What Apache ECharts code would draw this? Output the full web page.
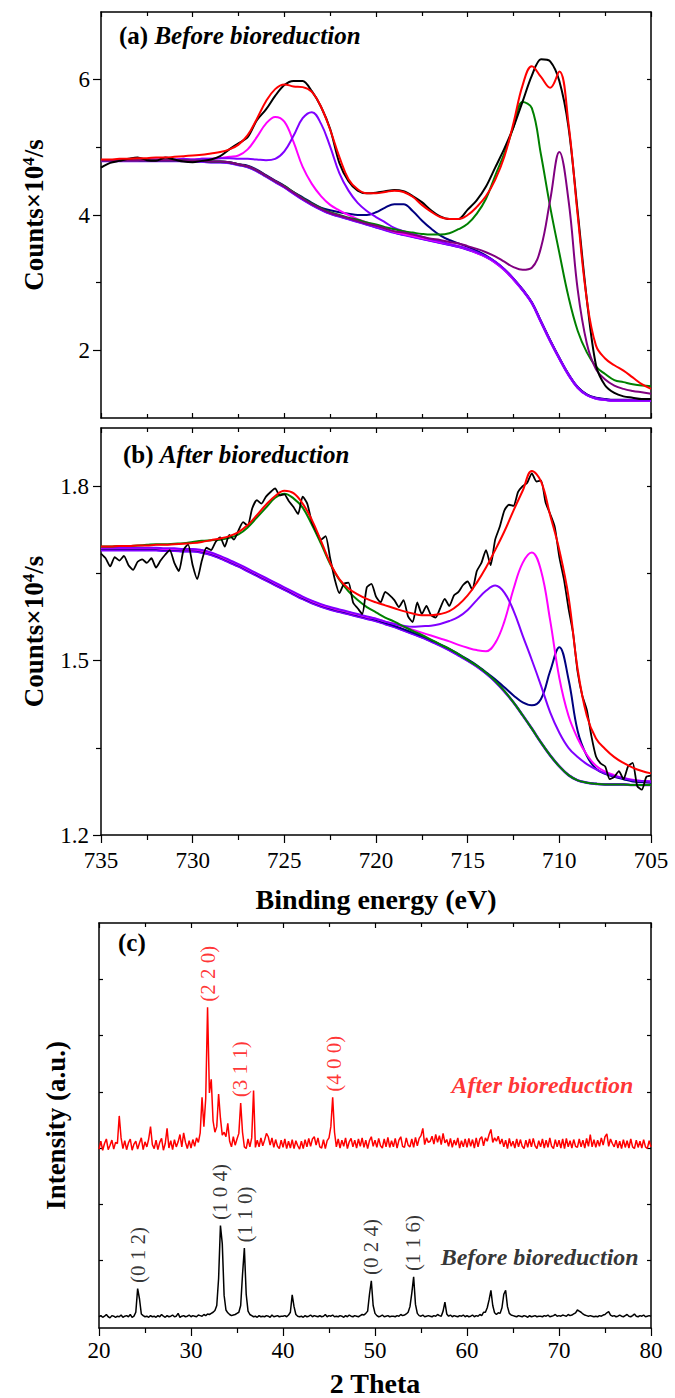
<!DOCTYPE html>
<html>
<head>
<meta charset="utf-8">
<script src="https://cdn.jsdelivr.net/npm/echarts@6/dist/echarts.min.js"></script>
<style>
  html, body { margin: 0; padding: 0; background: #fff; }
  #chart { width: 675px; height: 1398px; }
</style>
</head>
<body>
<div id="chart"></div>
<script>
// ---------- Fe 2p XPS, (a) before bioreduction: 0.5 eV steps, 735 -> 705 eV ----------
const XPS_START = 735;
const XPS_STEP = 0.5;
const XPS_FINE_STEP = 0.25;

// Shirley background (Counts x 10^4 /s)
const bgA = [4.80,4.80,4.80,4.80,4.80,4.80,4.80,4.80,4.80,4.80,
  4.79,4.79,4.78,4.78,4.77,4.74,4.71,4.65,4.57,4.49,
  4.41,4.32,4.23,4.15,4.08,4.02,3.98,3.94,3.90,3.86,
  3.82,3.78,3.74,3.71,3.68,3.65,3.62,3.59,3.56,3.53,
  3.49,3.44,3.38,3.30,3.19,3.05,2.89,2.70,2.42,2.14,
  1.88,1.64,1.45,1.34,1.29,1.27,1.26,1.26,1.26,1.26,
  1.26];
// fitted components, given as height above the background
const magA = [0.01,0.01,0.01,0.01,0.01,0.02,0.02,0.02,0.02,0.03,
  0.03,0.04,0.05,0.06,0.09,0.14,0.26,0.50,0.78,0.96,
  0.97,0.76,0.48,0.31,0.20,0.13,0.09,0.06,0.04,0.03,
  0.02,0.02,0.01,0.01,0.01,0.01,0.01,0.01,0.01,0.01,
  0.01,0,0,0,0,0,0,0,0,0,
  0,0,0,0,0,0,0,0,0,0,
  0];
const vioA = [0.01,0.01,0.01,0.01,0.02,0.02,0.02,0.02,0.02,0.03,
  0.03,0.04,0.05,0.06,0.07,0.09,0.12,0.17,0.24,0.34,
  0.53,0.85,1.20,1.37,1.27,0.99,0.64,0.42,0.28,0.20,
  0.15,0.11,0.07,0.05,0.04,0.03,0.02,0.02,0.01,0.01,
  0.01,0.01,0.01,0.01,0.01,0.01,0,0,0,0,
  0,0,0,0,0,0,0,0,0,0,
  0];
const navA = [0.01,0.01,0.01,0.01,0.01,0.01,0.01,0.01,0.01,0.01,
  0.01,0.01,0.01,0.01,0.01,0.01,0.02,0.02,0.02,0.02,
  0.02,0.02,0.03,0.03,0.03,0.05,0.06,0.08,0.10,0.14,
  0.22,0.33,0.42,0.45,0.38,0.27,0.18,0.11,0.07,0.05,
  0.04,0.03,0.02,0.01,0.01,0.01,0.01,0.01,0.01,0.01,
  0.01,0.01,0.01,0.01,0.01,0.01,0.01,0.01,0.01,0.01,
  0.01];
const grnA = [0.01,0.01,0.01,0.01,0.01,0.01,0.01,0.01,0.01,0.01,
  0.01,0.01,0.01,0.01,0.01,0.01,0.01,0.01,0.01,0.01,
  0.02,0.02,0.02,0.02,0.02,0.02,0.02,0.02,0.03,0.03,
  0.04,0.04,0.05,0.05,0.06,0.07,0.09,0.12,0.17,0.26,
  0.38,0.58,0.86,1.28,1.72,2.25,2.78,2.88,2.47,1.98,
  1.56,1.15,0.84,0.63,0.47,0.38,0.30,0.27,0.24,0.22,
  0.21];
const purA = [0.01,0.01,0.01,0.01,0.01,0.01,0.01,0.01,0.01,0.01,
  0.01,0.01,0.01,0.01,0.01,0.01,0.01,0.01,0.01,0.01,
  0.01,0.01,0.01,0.01,0.01,0.01,0.01,0.01,0.01,0.01,
  0.02,0.02,0.02,0.03,0.03,0.03,0.03,0.04,0.04,0.05,
  0.05,0.06,0.07,0.09,0.12,0.18,0.30,0.52,1.10,2.08,
  3.05,2.58,1.45,0.76,0.43,0.30,0.22,0.17,0.14,0.12,
  0.10];
// fit envelope and measured spectrum
const fitA = [4.82,4.82,4.83,4.83,4.84,4.84,4.85,4.85,4.86,4.87,
  4.88,4.89,4.91,4.93,4.97,5.04,5.18,5.42,5.68,5.86,
  5.93,5.90,5.89,5.82,5.60,5.26,4.86,4.53,4.38,4.32,
  4.32,4.34,4.36,4.34,4.27,4.15,4.05,3.97,3.94,3.94,
  4.00,4.12,4.28,4.52,4.86,5.36,5.92,6.20,6.04,5.88,
  6.12,5.35,4.00,2.75,2.07,1.88,1.78,1.70,1.60,1.50,
  1.43];
const rawA = [4.70,4.77,4.80,4.83,4.85,4.81,4.80,4.85,4.82,4.79,
  4.78,4.80,4.82,4.87,4.97,5.06,5.15,5.40,5.56,5.76,
  5.92,5.98,5.98,5.83,5.60,5.27,4.77,4.50,4.36,4.32,
  4.33,4.35,4.37,4.35,4.28,4.19,4.07,3.98,3.94,3.94,
  4.08,4.22,4.42,4.70,4.98,5.30,5.68,6.06,6.30,6.27,
  5.98,5.30,4.05,2.75,1.78,1.48,1.37,1.32,1.30,1.28,
  1.28];

// ---------- Fe 2p XPS, (b) after bioreduction ----------
const bgB = [1.690,1.690,1.690,1.690,1.690,1.690,1.690,1.689,1.689,1.688,
  1.688,1.686,1.682,1.676,1.669,1.662,1.654,1.646,1.638,1.630,
  1.622,1.614,1.606,1.599,1.593,1.588,1.584,1.580,1.576,1.572,
  1.568,1.563,1.558,1.552,1.546,1.540,1.533,1.526,1.518,1.509,
  1.500,1.490,1.478,1.464,1.447,1.428,1.406,1.383,1.359,1.337,
  1.318,1.303,1.294,1.290,1.288,1.287,1.287,1.287,1.286,1.286,
  1.286];
const grnB = [0.006,0.006,0.007,0.007,0.008,0.009,0.010,0.011,0.012,0.014,
  0.016,0.020,0.025,0.032,0.042,0.055,0.075,0.100,0.125,0.150,
  0.165,0.165,0.157,0.135,0.108,0.078,0.055,0.039,0.028,0.020,
  0.015,0.011,0.009,0.007,0.005,0.004,0.003,0.002,0.002,0.002,
  0.001,0.001,0.001,0.001,0.001,0,0,0,0,0,
  0,0,0,0,0,0,0,0,0,0,
  0];
const vioB = [0.004,0.004,0.004,0.004,0.004,0.004,0.004,0.004,0.004,0.004,
  0.004,0.004,0.004,0.004,0.004,0.004,0.004,0.004,0.004,0.004,
  0.004,0.004,0.004,0.004,0.004,0.004,0.004,0.004,0.004,0.004,
  0.004,0.004,0.005,0.008,0.012,0.019,0.027,0.037,0.050,0.066,
  0.087,0.114,0.142,0.165,0.170,0.158,0.137,0.118,0.098,0.074,
  0.058,0.047,0.040,0.032,0.025,0.019,0.014,0.011,0.008,0.007,
  0.006];
const magB = [0.003,0.003,0.003,0.003,0.003,0.003,0.003,0.003,0.003,0.003,
  0.003,0.003,0.003,0.003,0.003,0.003,0.003,0.003,0.003,0.003,
  0.003,0.003,0.003,0.003,0.003,0.003,0.003,0.003,0.003,0.003,
  0.004,0.004,0.005,0.006,0.007,0.008,0.010,0.012,0.015,0.018,
  0.022,0.028,0.038,0.066,0.120,0.195,0.262,0.303,0.296,0.232,
  0.152,0.102,0.072,0.048,0.031,0.022,0.016,0.011,0.009,0.007,
  0.006];
const navB = [0.002,0.002,0.002,0.002,0.002,0.002,0.002,0.002,0.002,0.002,
  0.002,0.002,0.002,0.002,0.002,0.002,0.002,0.002,0.002,0.002,
  0.002,0.002,0.002,0.002,0.002,0.002,0.002,0.002,0.002,0.002,
  0.002,0.002,0.002,0.002,0.002,0.002,0.002,0.002,0.002,0.002,
  0.002,0.002,0.002,0.004,0.007,0.012,0.022,0.040,0.075,0.145,
  0.205,0.165,0.085,0.046,0.026,0.018,0.013,0.009,0.006,0.005,
  0.004];
const fitB = [1.696,1.696,1.697,1.697,1.698,1.698,1.699,1.699,1.700,1.701,
  1.702,1.704,1.707,1.710,1.714,1.721,1.733,1.750,1.768,1.783,
  1.792,1.788,1.770,1.742,1.706,1.668,1.640,1.624,1.614,1.606,
  1.600,1.595,1.590,1.585,1.581,1.578,1.578,1.580,1.585,1.596,
  1.612,1.634,1.660,1.690,1.722,1.758,1.792,1.826,1.808,1.750,
  1.690,1.610,1.485,1.405,1.366,1.348,1.334,1.324,1.316,1.310,
  1.306];
// measured spectrum, 0.25 eV steps
const rawB = [1.684,1.676,1.662,1.678,1.672,1.680,1.664,1.656,1.670,1.674,
  1.668,1.676,1.660,1.672,1.682,1.690,1.668,1.654,1.690,1.700,
  1.664,1.640,1.672,1.694,1.690,1.704,1.712,1.696,1.716,1.708,
  1.724,1.738,1.732,1.762,1.776,1.770,1.782,1.790,1.796,1.784,
  1.786,1.774,1.764,1.752,1.782,1.770,1.738,1.722,1.708,1.714,
  1.676,1.640,1.616,1.632,1.634,1.600,1.590,1.580,1.626,1.632,
  1.610,1.600,1.618,1.612,1.604,1.592,1.604,1.576,1.566,1.600,
  1.580,1.594,1.578,1.574,1.590,1.606,1.594,1.612,1.618,1.630,
  1.636,1.622,1.654,1.668,1.690,1.664,1.708,1.730,1.758,1.768,
  1.766,1.790,1.800,1.806,1.822,1.808,1.810,1.772,1.752,1.730,
  1.678,1.640,1.590,1.547,1.480,1.440,1.415,1.370,1.335,1.323,
  1.318,1.296,1.300,1.310,1.296,1.318,1.324,1.284,1.278,1.300,
  1.302];

// ---------- (c) XRD patterns, 0.2 deg steps from 20 to 80 deg ----------
const XRD_START = 20;
const XRD_STEP = 0.2;
const AFTER_OFFSET = 292;   // vertical shift of the upper pattern
const xrdBefore = [
  20,22,19,21,24,20,18,22,21,19,
  21,20,23,19,21,22,20,24,19,21,
  28,70,52,25,22,20,21,19,22,20,
  21,19,22,20,24,21,19,22,20,21,
  23,20,21,26,19,21,22,20,21,23,
  20,22,21,20,23,22,21,24,22,25,
  24,26,28,31,40,88,182,150,58,32,
  27,24,22,23,24,26,28,40,95,142,
  60,30,24,22,20,21,19,22,20,21,
  20,22,21,19,23,20,21,22,20,21,
  21,22,20,23,28,59,38,24,21,20,
  21,19,22,20,21,23,20,22,21,20,
  22,20,21,24,20,22,21,23,20,21,
  20,22,21,19,22,20,23,21,20,22,
  21,20,22,24,23,26,30,60,84,40,
  26,22,20,21,23,20,21,22,20,21,
  21,20,22,21,24,22,23,25,28,38,
  62,91,42,26,22,21,23,20,21,22,
  21,20,22,21,24,22,21,30,46,25,
  21,23,20,22,21,20,22,21,23,20,
  22,20,21,23,20,22,21,24,22,28,
  28,36,50,67,40,27,24,27,26,36,
  60,67,38,26,23,22,21,20,22,21,
  20,22,21,19,22,20,21,22,20,21,
  21,20,22,21,23,20,21,22,24,21,
  22,21,23,22,21,24,22,23,25,27,
  32,30,28,25,23,22,21,22,21,20,
  21,20,22,21,23,24,27,29,23,21,
  22,20,21,23,21,20,22,24,21,20,
  22,25,21,20,22,21,23,20,21,22,
  21];
const xrdAfter = [
  26,40,24,36,44,25,33,42,26,38,
  36,85,46,27,41,25,37,44,24,35,
  40,26,37,46,25,39,30,44,66,34,
  27,42,25,38,45,24,36,63,28,41,
  25,43,30,39,52,30,55,38,27,41,
  28,43,31,46,38,55,118,66,116,278,
  126,150,76,56,66,124,81,51,56,48,
  72,40,30,48,33,44,54,108,56,30,
  27,44,30,46,130,29,42,30,46,32,
  42,54,48,33,46,29,43,31,27,42,
  29,44,27,40,28,43,27,41,32,26,
  40,27,43,30,45,31,44,48,33,46,
  30,28,43,27,41,46,66,118,56,30,
  44,28,42,31,46,27,39,45,30,42,
  28,44,31,46,29,42,27,41,48,31,
  42,29,45,32,28,44,30,47,29,41,
  30,45,28,42,48,31,29,46,33,30,
  44,29,47,32,45,50,63,34,46,38,
  40,49,35,52,38,50,34,54,37,43,
  31,45,29,42,33,46,28,41,30,44,
  29,45,31,43,28,46,30,44,48,32,
  46,40,52,61,38,46,40,49,35,44,
  30,42,27,45,31,40,28,44,30,43,
  31,27,42,29,44,30,45,32,27,41,
  30,44,28,42,29,46,31,27,43,30,
  42,28,44,27,45,30,41,28,43,31,
  29,44,30,42,28,45,31,52,30,43,
  29,42,31,46,33,48,53,31,44,36,
  30,42,28,40,27,43,29,41,28,44,
  30,27,42,29,40,28,43,30,27,41,
  30];
// Miller indices placed over their reflections: [2theta, label]
const afterHkl = [[31.8, '(2 2 0)'], [35.3, '(3 1 1)'], [45.5, '(4 0 0)']];
const beforeHkl = [[24.2, '(0 1 2)'], [33.2, '(1 0 4)'], [35.9, '(1 1 0)'], [49.6, '(0 2 4)'], [54.15, '(1 1 6)']];

// ---------- drawing ----------
const FONT = 'Liberation Serif';
const BLACK = '#000000', RED = '#ff0000', GREEN = '#008000', MAGENTA = '#ff00ff',
      VIOLET = '#8000ff', NAVY = '#000080', PURPLE = '#800080', BLUE = '#0000ff';

const xpsPoints = (vals, step) => vals.map((v, i) => [+(XPS_START - i * step).toFixed(2), v]);
const withBg = (bg, ex) => bg.map((b, i) => +(b + ex[i]).toFixed(3));
const xrdPoints = (vals, shift) => vals.map((v, i) => [+(XRD_START + i * XRD_STEP).toFixed(1), v + shift]);

function line(data, color, width, xi, yi, smooth) {
  return {
    type: 'line', data, xAxisIndex: xi, yAxisIndex: yi, symbol: 'none', showSymbol: false,
    smooth: smooth, lineStyle: { color, width }, silent: true, animation: false, clip: true
  };
}

// label position: highest point of the pattern near the label, raised by a fixed gap
function hklLabels(list, vals, shift, color) {
  const data = list.map(([x, text]) => {
    let top = -Infinity;
    vals.forEach((v, i) => {
      const a = XRD_START + i * XRD_STEP;
      if (Math.abs(a - x) <= 0.4) top = Math.max(top, v + shift);
    });
    return { value: [x, top + 60], name: text };
  });
  return {
    type: 'scatter', xAxisIndex: 4, yAxisIndex: 6, symbolSize: 1, silent: true, animation: false,
    itemStyle: { color: 'rgba(0,0,0,0)' }, data,
    label: { show: true, position: 'inside', rotate: 90, formatter: p => p.name,
             fontFamily: FONT, fontSize: 21, color }
  };
}

function textMark(x, y, text, color) {
  return {
    type: 'scatter', xAxisIndex: 4, yAxisIndex: 6, symbolSize: 1, silent: true, animation: false,
    itemStyle: { color: 'rgba(0,0,0,0)' }, data: [{ value: [x, y], name: text }],
    label: { show: true, position: 'inside', formatter: p => p.name, fontFamily: FONT,
             fontSize: 24, fontWeight: 'bold', fontStyle: 'italic', color }
  };
}

const axisLine = { show: true, onZero: false, lineStyle: { color: BLACK, width: 1.5 } };
const tickStyle = { color: BLACK, width: 1.2 };
const labelStyle = { fontFamily: FONT, fontSize: 23, color: BLACK };
const titleStyle = { fontFamily: FONT, fontSize: 28, fontWeight: 'bold', color: BLACK };

function energyAxis(grid, position, outward, labels) {
  const ax = {
    gridIndex: grid, type: 'value', min: 705, max: 735, interval: 5, inverse: true, position,
    axisLine,
    axisTick: { show: true, inside: !outward, length: outward ? 8 : 5, lineStyle: tickStyle },
    minorTick: { show: true, splitNumber: 2, length: outward ? 5 : 4, lineStyle: tickStyle },
    axisLabel: { show: !!labels, margin: 14, ...labelStyle },
    splitLine: { show: false }, minorSplitLine: { show: false }
  };
  if (labels) {
    ax.name = 'Binding energy (eV)';
    ax.nameLocation = 'middle';
    ax.nameGap = 50;
    ax.nameTextStyle = titleStyle;
  }
  return ax;
}

function thetaAxis(position, outward, labels) {
  const ax = {
    gridIndex: 2, type: 'value', min: 20, max: 80, interval: 10, position,
    axisLine,
    axisTick: { show: true, inside: !outward, length: outward ? 8 : 5, lineStyle: tickStyle },
    minorTick: { show: true, splitNumber: 2, length: outward ? 5 : 4, lineStyle: tickStyle },
    axisLabel: { show: !!labels, margin: 11, ...labelStyle },
    splitLine: { show: false }, minorSplitLine: { show: false }
  };
  if (labels) {
    ax.name = '2 Theta';
    ax.nameLocation = 'middle';
    ax.nameGap = 41;
    ax.nameTextStyle = titleStyle;
  }
  return ax;
}

function valueAxis(grid, min, max, position, ticks, opts) {
  return Object.assign({
    gridIndex: grid, type: 'value', min, max, position,
    axisLine,
    axisTick: { show: true, inside: false, length: 8, customValues: ticks, lineStyle: tickStyle },
    axisLabel: { show: false },
    splitLine: { show: false }
  }, opts || {});
}

const countsName = {
  name: 'Counts×10{sup|4}/s', nameLocation: 'middle', nameRotate: 90, nameGap: 54,
  nameTextStyle: Object.assign({}, titleStyle, {
    fontSize: 27,
    rich: { sup: { fontFamily: FONT, fontSize: 17, fontWeight: 'bold', color: BLACK, verticalAlign: 'top' } }
  })
};

const richTitle = {
  n: { fontFamily: FONT, fontSize: 25, fontWeight: 'bold', color: BLACK },
  i: { fontFamily: FONT, fontSize: 25, fontWeight: 'bold', fontStyle: 'italic', color: BLACK }
};

const option = {
  backgroundColor: '#ffffff',
  animation: false,
  textStyle: { fontFamily: FONT },
  title: [
    { text: '{n|(a)} {i|Before bioreduction}', left: 119, top: 23, padding: 0,
      textStyle: { fontFamily: FONT, fontSize: 25, rich: richTitle } },
    { text: '{n|(b)} {i|After bioreduction}', left: 123, top: 442, padding: 0,
      textStyle: { fontFamily: FONT, fontSize: 25, rich: richTitle } },
    { text: '(c)', left: 118, top: 930, padding: 0,
      textStyle: { fontFamily: FONT, fontSize: 25, fontWeight: 'bold', color: BLACK } }
  ],
  grid: [
    { left: 101, top: 12, width: 550, height: 406, containLabel: false, outerBoundsMode: 'none' },
    { left: 101, top: 428, width: 550, height: 407, containLabel: false, outerBoundsMode: 'none' },
    { left: 99, top: 923, width: 552, height: 405, containLabel: false, outerBoundsMode: 'none' }
  ],
  xAxis: [
    energyAxis(0, 'bottom', false, false),
    energyAxis(0, 'top', false, false),
    energyAxis(1, 'bottom', true, true),
    energyAxis(1, 'top', false, false),
    thetaAxis('bottom', true, true),
    thetaAxis('top', false, false)
  ],
  yAxis: [
    // (a)
    valueAxis(0, 1, 7, 'left', [2, 4, 6], Object.assign({
      axisLabel: { show: true, customValues: [2, 4, 6], margin: 11, ...labelStyle }
    }, countsName)),
    valueAxis(0, 1, 7, 'left', [3, 5], { axisLine: { show: false },
      axisTick: { show: true, length: 5, customValues: [3, 5], lineStyle: tickStyle } }),
    valueAxis(0, 1, 7, 'right', [2, 3, 4, 5, 6], {
      axisTick: { show: true, inside: true, length: 4, customValues: [2, 3, 4, 5, 6], lineStyle: tickStyle } }),
    // (b)
    valueAxis(1, 1.2, 1.9, 'left', [1.2, 1.5, 1.8], Object.assign({
      axisLabel: { show: true, customValues: [1.2, 1.5, 1.8], margin: 12,
                   formatter: v => v.toFixed(1), ...labelStyle }
    }, countsName)),
    valueAxis(1, 1.2, 1.9, 'left', [1.35, 1.65], { axisLine: { show: false },
      axisTick: { show: true, length: 5, customValues: [1.35, 1.65], lineStyle: tickStyle } }),
    valueAxis(1, 1.2, 1.9, 'right', [1.35, 1.5, 1.65, 1.8], {
      axisTick: { show: true, inside: true, length: 4, customValues: [1.35, 1.5, 1.65, 1.8], lineStyle: tickStyle } }),
    // (c)
    valueAxis(2, 0, 720, 'left', [120, 220, 320, 420, 520, 620], {
      axisTick: { show: true, inside: true, length: 4, customValues: [120, 220, 320, 420, 520, 620], lineStyle: tickStyle },
      name: 'Intensity (a.u.)', nameLocation: 'middle', nameRotate: 90, nameGap: 30,
      nameTextStyle: Object.assign({}, titleStyle, { fontSize: 27 }) }),
    valueAxis(2, 0, 720, 'right', [120, 220, 320, 420, 520, 620], {
      axisTick: { show: true, inside: true, length: 4, customValues: [120, 220, 320, 420, 520, 620], lineStyle: tickStyle } })
  ],
  series: [
    // (a) before bioreduction
    line(xpsPoints(bgA, XPS_STEP), BLUE, 2, 0, 0, 0.4),
    line(xpsPoints(bgA, XPS_STEP), VIOLET, 2.6, 0, 0, 0.4),
    line(xpsPoints(withBg(bgA, navA), XPS_STEP), NAVY, 2, 0, 0, 0.4),
    line(xpsPoints(withBg(bgA, magA), XPS_STEP), MAGENTA, 2, 0, 0, 0.4),
    line(xpsPoints(withBg(bgA, vioA), XPS_STEP), VIOLET, 2, 0, 0, 0.4),
    line(xpsPoints(withBg(bgA, grnA), XPS_STEP), GREEN, 2, 0, 0, 0.4),
    line(xpsPoints(withBg(bgA, purA), XPS_STEP), PURPLE, 2, 0, 0, 0.4),
    line(xpsPoints(rawA, XPS_STEP), BLACK, 2, 0, 0, 0.3),
    line(xpsPoints(fitA, XPS_STEP), RED, 2, 0, 0, 0.4),
    // (b) after bioreduction
    line(xpsPoints(bgB, XPS_STEP), BLUE, 2, 2, 3, 0.4),
    line(xpsPoints(bgB, XPS_STEP), VIOLET, 2.6, 2, 3, 0.4),
    line(xpsPoints(withBg(bgB, navB), XPS_STEP), NAVY, 2, 2, 3, 0.4),
    line(xpsPoints(withBg(bgB, magB), XPS_STEP), MAGENTA, 2, 2, 3, 0.4),
    line(xpsPoints(withBg(bgB, vioB), XPS_STEP), VIOLET, 2, 2, 3, 0.4),
    line(xpsPoints(withBg(bgB, grnB), XPS_STEP), GREEN, 2, 2, 3, 0.4),
    line(xpsPoints(rawB, XPS_FINE_STEP), BLACK, 1.8, 2, 3, 0.2),
    line(xpsPoints(fitB, XPS_STEP), RED, 2, 2, 3, 0.4),
    // (c) XRD
    line(xrdPoints(xrdAfter, AFTER_OFFSET), RED, 1.5, 4, 6, false),
    line(xrdPoints(xrdBefore, 0), BLACK, 1.5, 4, 6, false),
    hklLabels(afterHkl, xrdAfter, AFTER_OFFSET, RED),
    hklLabels(beforeHkl, xrdBefore, 0, BLACK),
    textMark(68.2, 432, 'After bioreduction', RED),
    textMark(67.9, 127, 'Before bioreduction', BLACK)
  ]
};

const chart = echarts.init(document.getElementById('chart'), null, { renderer: 'svg', width: 675, height: 1398 });
chart.setOption(option);
</script>
</body>
</html>
